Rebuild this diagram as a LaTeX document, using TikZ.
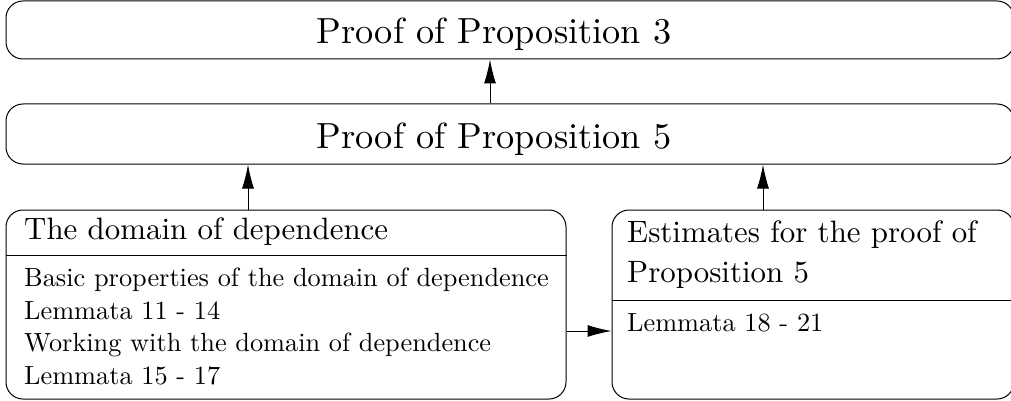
\documentclass[tikz,border=0pt]{standalone}
\usepackage{fontspec}
\setmainfont{lmroman10-regular}[Extension=.otf]
\usetikzlibrary{arrows.meta}
\begin{document}
\begin{tikzpicture}[x=1pt,y=-1pt,
  box/.style={draw, line width=1pt, rounded corners=17pt, inner sep=0pt},
  arr/.style={line width=1pt, -{Latex[length=24pt,width=12pt]}},
  bigt/.style={inner sep=0pt, anchor=base, font=\fontsize{36.3}{40}\selectfont},
  midt/.style={inner sep=0pt, anchor=base west, font=\fontsize{30.9}{34}\selectfont},
  smt/.style={inner sep=0pt, anchor=base west, font=\fontsize{26.3}{30}\selectfont}]
\useasboundingbox (0,0) rectangle (1011,401);
\node[box, minimum width=1008pt, minimum height=58pt] (b1) at (510,30) {};
\node[box, minimum width=1008pt, minimum height=60pt] (b2) at (510,134) {};
\node[box, minimum width=560pt, minimum height=189pt] (b3) at (286,304.5) {};
\node[box, minimum width=402pt, minimum height=189pt] (b4) at (813,304.5) {};
\coordinate (h3) at (0,255);
\coordinate (h4) at (0,300);
\draw[line width=1pt] (b3.west |- h3) -- (b3.east |- h3);
\draw[line width=1pt] (b4.west |- h4) -- (b4.east |- h4);
\node[bigt] (t1) at (494,44) {Proof of Proposition 3};
\node[bigt] (t2) at (494,148) {Proof of Proposition 5};
\node[midt] (t3) at (24,239) {The domain of dependence};
\node[smt] (l1) at (24,286) {Basic properties of the domain of dependence};
\node[smt] (l2) at (24,319) {Lemmata 11 - 14};
\node[smt] (l3) at (24,351) {Working with the domain of dependence};
\node[smt] (l4) at (24,384) {Lemmata 15 - 17};
\node[midt] (t4a) at (627,242) {Estimates for the proof of};
\node[midt] (t4b) at (627,282) {Proposition 5};
\node[smt] (l5) at (627,331) {Lemmata 18 - 21};
\coordinate (a1) at (490,0);
\coordinate (a2) at (248,0);
\coordinate (a3) at (763,0);
\coordinate (a4) at (0,331);
\draw[arr] (b2.north -| a1) -- (b1.south -| a1);
\draw[arr] (b3.north -| a2) -- (b2.south -| a2);
\draw[arr] (b4.north -| a3) -- (b2.south -| a3);
\draw[arr] (b3.east |- a4) -- (b4.west |- a4);
\end{tikzpicture}
\end{document}
